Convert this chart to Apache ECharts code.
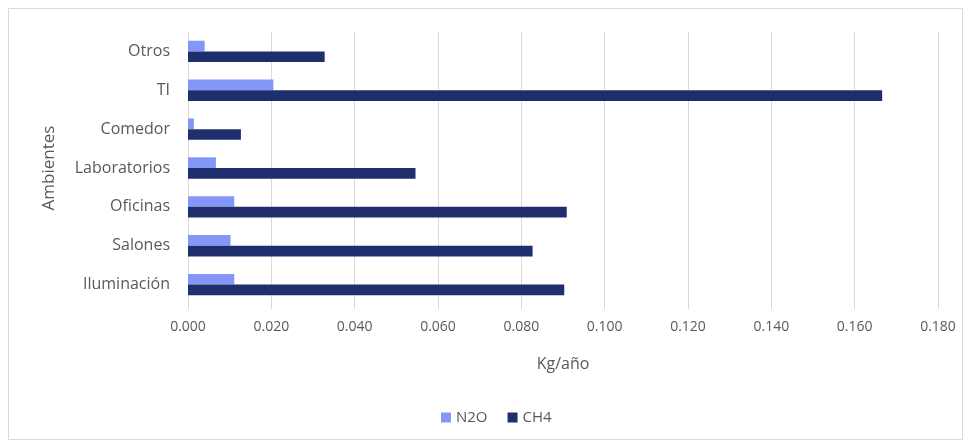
<!DOCTYPE html>
<html><head><meta charset="utf-8">
<script src="https://cdn.jsdelivr.net/npm/echarts@6/dist/echarts.min.js"></script>
<style>html,body{margin:0;padding:0;background:#fff}#c{width:969px;height:444px}</style>
</head><body><div id="c"></div>
<script>
const categories = ['Iluminación','Salones','Oficinas','Laboratorios','Comedor','TI','Otros'];
const n2o = [0.0111, 0.0102, 0.0111, 0.0067, 0.0014, 0.0205, 0.0040];
const ch4 = [0.0903, 0.0827, 0.0909, 0.0546, 0.0127, 0.1666, 0.0328];
const xTicks = [0, 0.18, 0.02];
const font = 'Open Sans';
const chart = echarts.init(document.getElementById('c'), null, {renderer:'canvas'});
chart.setOption({
  animation:false,
  textStyle:{fontFamily:font},
  graphic:[{type:'rect',shape:{x:8.5,y:8.5,width:954,height:431},style:{fill:'none',stroke:'#d9d9d9',lineWidth:1}}],
  legend:{data:['N2O','CH4'],bottom:14,left:436,itemWidth:10,itemHeight:10,itemGap:20,icon:'rect',
    textStyle:{fontFamily:font,fontSize:15,color:'#595959'}},
  grid:{left:188,right:31,top:32,bottom:140,containLabel:false},
  xAxis:{type:'value',min:xTicks[0],max:xTicks[1],interval:xTicks[2],
    name:'Kg/año',nameLocation:'middle',nameGap:52,nameTextStyle:{fontFamily:font,fontSize:16,color:'#595959'},
    axisLabel:{formatter:v=>v.toFixed(3),fontSize:14,color:'#595959',margin:16},
    axisLine:{show:false},axisTick:{show:true,length:5,lineStyle:{color:'#d9d9d9'}},
    splitLine:{show:true,lineStyle:{color:'#d9d9d9',width:1}}},
  yAxis:{type:'category',data:categories,
    name:'Ambientes',nameLocation:'middle',nameGap:130,nameRotate:90,nameTextStyle:{fontFamily:font,fontSize:17,color:'#595959'},
    axisLabel:{fontSize:16,color:'#595959',margin:18},
    axisLine:{show:false},axisTick:{show:false}},
  series:[
    {name:'N2O',type:'bar',data:n2o,itemStyle:{color:'#8497f8'},barGap:'0%',barCategoryGap:'45%'},
    {name:'CH4',type:'bar',data:ch4,itemStyle:{color:'#1f2f6e'},barGap:'0%',barCategoryGap:'45%'}
  ]
});
</script></body></html>
